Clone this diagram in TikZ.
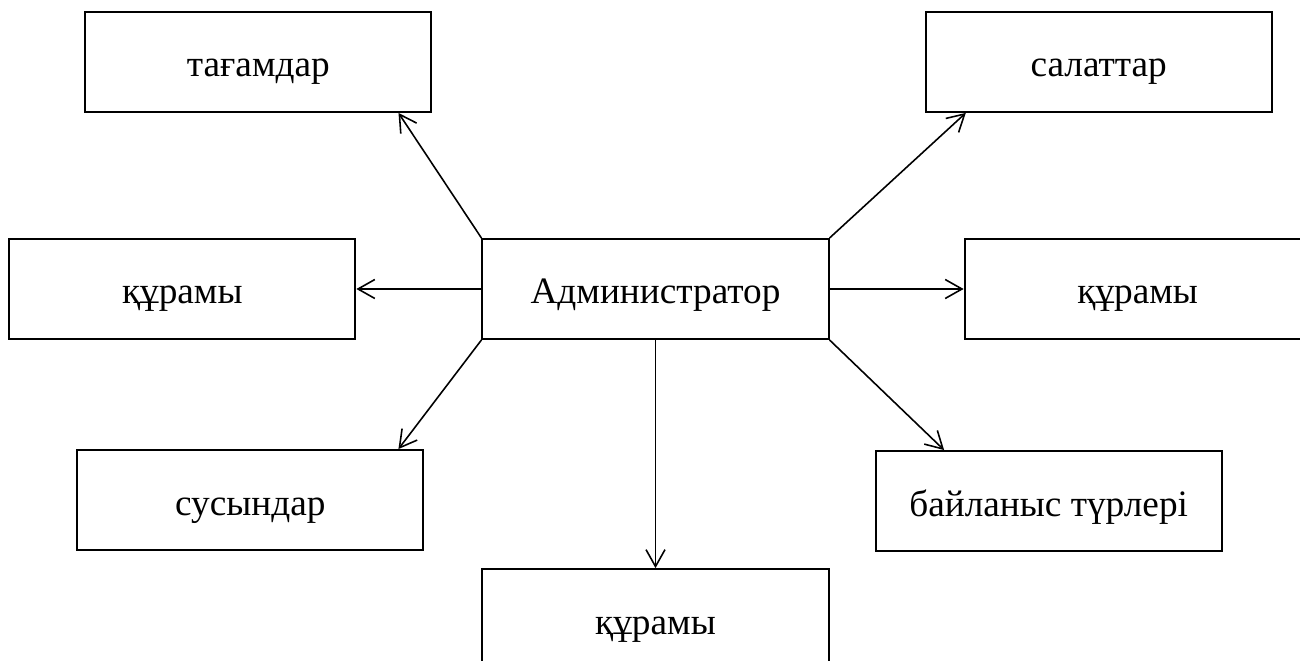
\documentclass[tikz,border=0pt]{standalone}
\usepackage{fontspec}
\setmainfont{Liberation Serif}
\usetikzlibrary{arrows.meta,positioning}

\begin{document}
\begin{tikzpicture}[
    x=0.01cm, y=-0.01cm,
    >={Straight Barb[length=4.8pt,width=5.4pt]},
    font=\fontsize{10.6}{12}\selectfont,
    block/.style={
		rectangle,
		draw=black,
		line width=0.55pt,
		text centered,
		text height=8.5pt,
		text depth=0pt,
		minimum width=3.46cm,
		minimum height=1cm,
		inner sep=0pt,
		fill=white
	},
	link/.style={
		->,
		line width=0.45pt
	}
  ]
  \useasboundingbox (0,0) rectangle (1300,661);
  \clip (0,0) rectangle (1300,661);

    % We start by placing the blocks
  \node [block] (admin) at (655.5,289) {Администратор};

  \node [block, above left=1.25cm and 0.49cm of admin] (tagam) {тағамдар};
  \node [block, above right=1.25cm and 0.95cm of admin] (salat) {салаттар};
  \node [block, left=1.25cm of admin] (kuramL) {құрамы};
  \node [block, right=1.34cm of admin] (kuramR) {құрамы};
  \node [block, below left=1.09cm and 0.57cm of admin] (susyn) {сусындар};
  \node [block, below right=1.1cm and 0.45cm of admin] (bailan) {байланыс түрлері};
  \node [block, below=2.28cm of admin] (kuramB) {құрамы};

    % then the links
  \draw [link] (admin.north west) -- (tagam.-20.8);
  \draw [link] (admin.west) -- (kuramL.east);
  \draw [link] (admin.south west) -- (susyn.19.9);
  \draw [link] (admin.south) -- (kuramB.north);
  \draw [link] (admin.south east) -- (bailan.154.1);
  \draw [link] (admin.east) -- (kuramR.west);
  \draw [link] (admin.north east) -- (salat.-159.9);

\end{tikzpicture}
\end{document}
